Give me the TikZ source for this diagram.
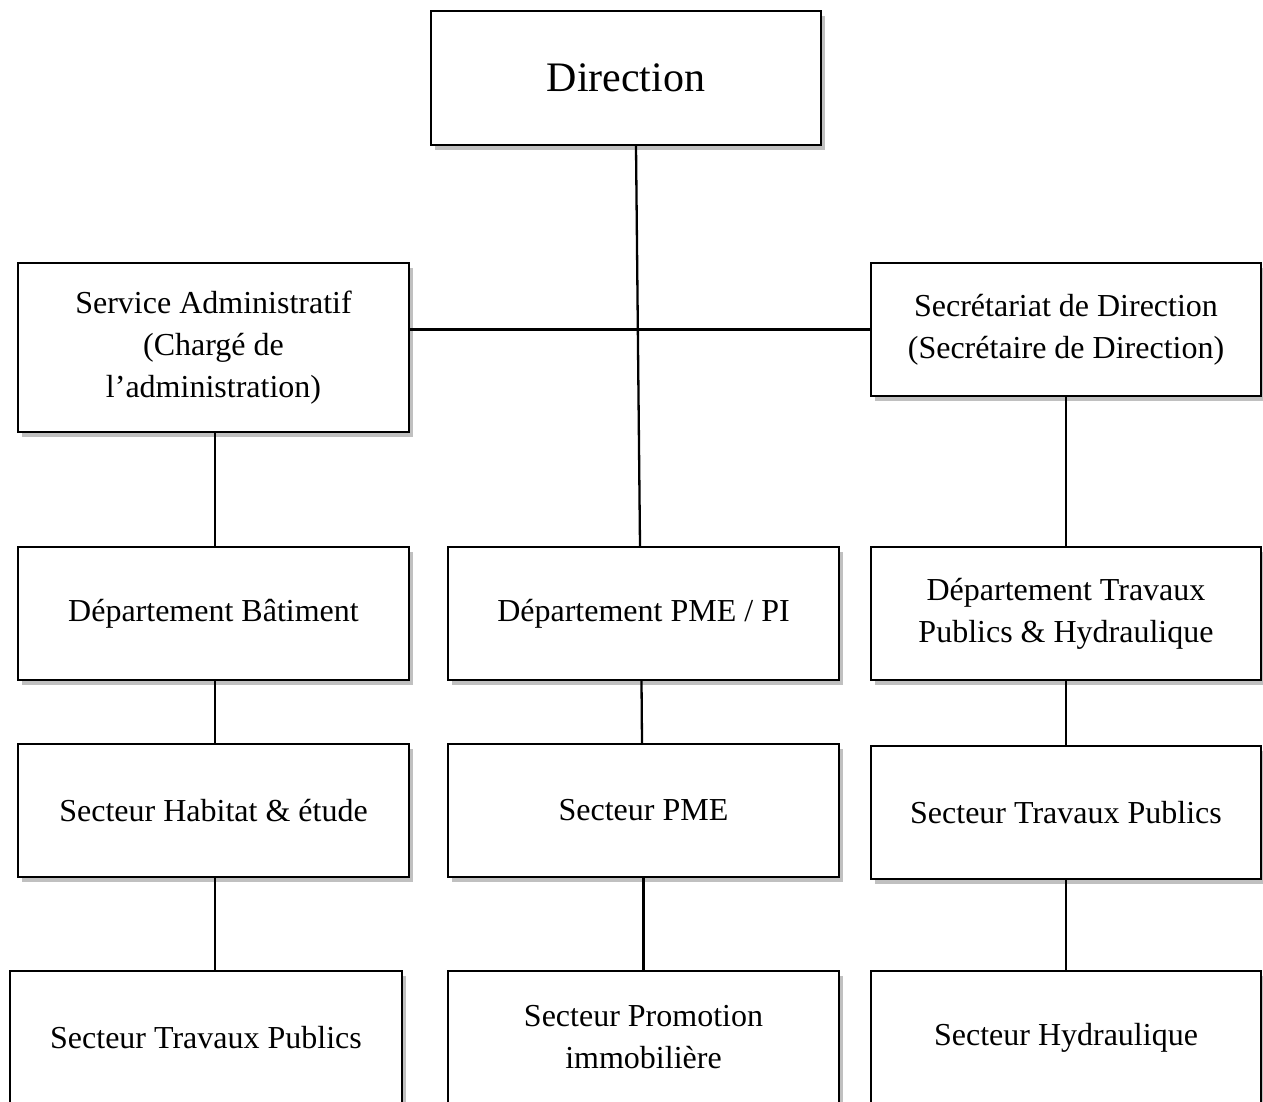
\documentclass[tikz,border=0pt]{standalone}
\usepackage{fontspec}
\setmainfont{Liberation Serif}
\usetikzlibrary{shadows,calc}
\begin{document}
\begin{tikzpicture}[x=1pt,y=-1pt,
  box/.style={draw, line width=2.3pt, fill=white, align=center,
    font=\fontsize{32}{42}\selectfont, inner sep=0pt,
    minimum width=391pt, minimum height=133pt,
    drop shadow={shadow xshift=4pt, shadow yshift=-5pt, opacity=0.45, fill=black!55}},
  link/.style={line width=2.3pt},
  thinlink/.style={line width=1.2pt}
  ]
\useasboundingbox (0,0) rectangle (1263,1101);
\clip (0,0) rectangle (1263,1101);

\node[box, minimum width=390pt, minimum height=134pt, font=\fontsize{42}{50}\selectfont] (dir) at (626,78) {Direction};
\node[box, minimum height=169pt] (sa) at (213.5,347.5) {Service Administratif\\(Chargé de\\l’administration)};
\node[box, minimum width=390pt] (sec) at (1066,329.5) {Secrétariat de Direction\\(Secrétaire de Direction)};

\node[box] (db) at (213.5,613.5) {Département Bâtiment};
\node[box] (dpme) at (643.5,613.5) {Département PME / PI};
\node[box, minimum width=390pt] (dtph) at (1066,613.5) {Département Travaux\\Publics \& Hydraulique};

\node[box] (sh) at (213.5,810.5) {Secteur Habitat \& étude};
\node[box] (spme) at (643.5,810.5) {Secteur PME};
\node[box, minimum width=390pt] (stpr) at (1066,812.5) {Secteur Travaux Publics};

\node[box, minimum width=392pt] (tpl) at (206,1037.5) {Secteur Travaux Publics};
\node[box] (spi) at (643.5,1037.5) {Secteur Promotion\\immobilière};
\node[box, minimum width=390pt] (hyd) at (1066,1037.5) {Secteur Hydraulique};

% connectors
\draw[link] ([xshift=10pt]dir.south) -- ([xshift=-3.5pt]dpme.north);
\draw[link] (sa.east |- sec.west) -- (sec.west);
\draw[thinlink] ([xshift=1.5pt]sa.south) -- ([xshift=1.5pt]db.north);
\draw[thinlink] ([xshift=1.5pt]db.south) -- ([xshift=1.5pt]sh.north);
\draw[thinlink] ([xshift=1.5pt]sh.south) -- ([xshift=1.5pt]sh.south |- tpl.north);
\draw[link] (sec.south) -- (dtph.north);
\draw[link] (dtph.south) -- (stpr.north);
\draw[link] (stpr.south) -- (hyd.north);
\draw[link] ([xshift=-2pt]dpme.south) -- ([xshift=-1.5pt]spme.north);
\draw[link] (spme.south) -- (spi.north);
\end{tikzpicture}
\end{document}
